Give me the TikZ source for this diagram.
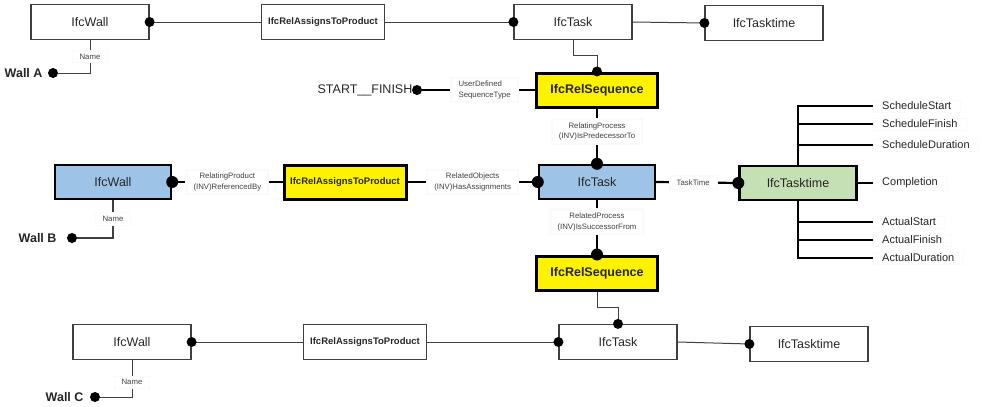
\documentclass[tikz,border=0pt]{standalone}
\usepackage{fontspec}
\setmainfont{Liberation Sans}
\definecolor{wallblue}{RGB}{157,195,230}
\definecolor{timegreen}{RGB}{197,224,180}

\begin{document}
\begin{tikzpicture}[x=1pt, y=-1pt,
  font=\fontsize{12.5}{15}\selectfont, text=black!85,
  ent/.style={draw=black!75, line width=1.2pt, minimum width=118pt, minimum height=35pt, inner sep=0pt},
  rel/.style={ent, minimum width=123pt, font=\fontsize{9.5}{11}\selectfont\bfseries},
  seq/.style={ent, draw=black, line width=3pt, minimum width=121pt, minimum height=34pt, fill=yellow, font=\fontsize{12.5}{15}\selectfont\bfseries},
  yrel/.style={seq, minimum width=122pt, font=\fontsize{9.5}{11}\selectfont\bfseries},
  obj/.style={ent, draw=black, line width=2.4pt, minimum width=116pt, minimum height=34pt},
  thn/.style={draw=black!75, line width=1pt},
  thk/.style={draw=black, line width=2.2pt},
  lbl/.style={fill=white, draw=black!2, align=center, inner xsep=7pt, inner ysep=3.5pt, font=\fontsize{7.8}{10.5}\selectfont, text=black!75},
  attr/.style={anchor=west, fill=white, draw=black!2, inner xsep=9pt, inner ysep=2pt, font=\fontsize{11}{13}\selectfont},
  wl/.style={anchor=east, font=\fontsize{12.5}{15}\selectfont\bfseries},
  dot/.style={circle, fill=black, inner sep=0pt, minimum size=10pt},
  bdot/.style={dot, minimum size=12pt}
]
\useasboundingbox (0,0) rectangle (983,407);

% first assignment: Wall A
\node[ent] (wallA) at (90,22) {IfcWall};
\node[rel] (relA) at (323,22) {IfcRelAssignsToProduct};
\node[ent] (taskA) at (573,22) {IfcTask};
\node[ent] (timeA) at (764,23) {IfcTasktime};
\node[wl] (wA) at (46,73) {Wall A};
\node[dot] (dA) at (53,73) {};

\draw[thn] (wallA.east) -- (relA.west);
\draw[thn] (relA.east) -- (taskA.west);
\draw[thn] (taskA.east) -- (timeA.west);
\draw[thn] (wallA.south) |- node[lbl, pos=.25]{Name} (dA);
\node[dot] at (wallA.east) {};
\node[dot] at (taskA.west) {};
\node[dot] at (timeA.west) {};

% sequence A -> B
\node[seq] (seqA) at (597,90) {IfcRelSequence};
\node (sf) at (365,90) {START\_\_FINISH};
\node[dot] (dSF) at (417,90) {};
\draw[thn] (taskA.south) -- ++(0,15) -| (seqA.north);
\node[dot] at (seqA.north) {};
\draw[thk] (dSF) -- node[lbl, align=left, xshift=6pt]{UserDefined\\SequenceType} (seqA.west);

% second assignment: Wall B
\node[obj, fill=wallblue] (wallB) at (113,182) {IfcWall};
\node[yrel] (relB) at (345,182) {IfcRelAssignsToProduct};
\node[obj, fill=wallblue] (taskB) at (597,182) {IfcTask};
\node[obj, fill=timegreen, minimum width=117pt] (timeB) at (798,183) {IfcTasktime};
\node[wl] (wB) at (60,238) {Wall B};
\node[dot] (dB) at (72,238) {};

\draw[thk] (wallB.east) -- node[lbl]{RelatingProduct\\(INV)ReferencedBy} (relB.west);
\draw[thk] (relB.east) -- node[lbl]{RelatedObjects\\(INV)HasAssignments} (taskB.west);
\draw[thk] (taskB.east) -- node[lbl, xshift=-4pt]{TaskTime} (timeB.west);
\draw[thk] (seqA.south) -- node[lbl, pos=.42]{RelatingProcess\\(INV)IsPredecessorTo} (taskB.north);
\draw[thn, line width=1.2pt] (wallB.south) |- node[lbl, pos=.25]{Name} (dB);
\node[bdot] at (wallB.east) {};
\node[bdot] at (taskB.west) {};
\node[bdot] at (taskB.north) {};
\node[bdot] at (timeB.west) {};

% task time attributes
\node[attr] (sStart) at (873,106) {ScheduleStart};
\node[attr] (sFinish) at (873,124) {ScheduleFinish};
\node[attr] (sDur) at (873,145) {ScheduleDuration};
\node[attr] (compl) at (873,183) {Completion};
\node[attr] (aStart) at (873,222) {ActualStart};
\node[attr] (aFinish) at (873,240) {ActualFinish};
\node[attr] (aDur) at (873,258) {ActualDuration};
\foreach \a in {sStart,sFinish,sDur}
  \draw[thk] (timeB.north) |- (\a.west);
\foreach \a in {aStart,aFinish,aDur}
  \draw[thk] (timeB.south) |- (\a.west);
\draw[thk] (timeB.east) -- (compl.west);

% sequence B -> C
\node[seq] (seqB) at (597,273) {IfcRelSequence};
\draw[thk] (taskB.south) -- node[lbl, pos=.4]{RelatedProcess\\(INV)IsSuccessorFrom} (seqB.north);
\node[bdot] at (seqB.north) {};

% third assignment: Wall C
\node[ent] (wallC) at (132,342) {IfcWall};
\node[rel] (relC) at (365,342) {IfcRelAssignsToProduct};
\node[ent] (taskC) at (618,342) {IfcTask};
\node[ent] (timeC) at (809,344) {IfcTasktime};
\node[wl] (wC) at (87,397) {Wall C};
\node[dot] (dC) at (95,397) {};

\draw[thn] (wallC.east) -- (relC.west);
\draw[thn] (relC.east) -- (taskC.west);
\draw[thn] (taskC.east) -- (timeC.west);
\draw[thn] (seqB.south) -- ++(0,16) -| (taskC.north);
\draw[thn] (wallC.south) |- node[lbl, pos=.3]{Name} (dC);
\node[dot] at (wallC.east) {};
\node[dot] at (taskC.west) {};
\node[dot] at (taskC.north) {};
\node[dot] at (timeC.west) {};
\end{tikzpicture}
\end{document}
